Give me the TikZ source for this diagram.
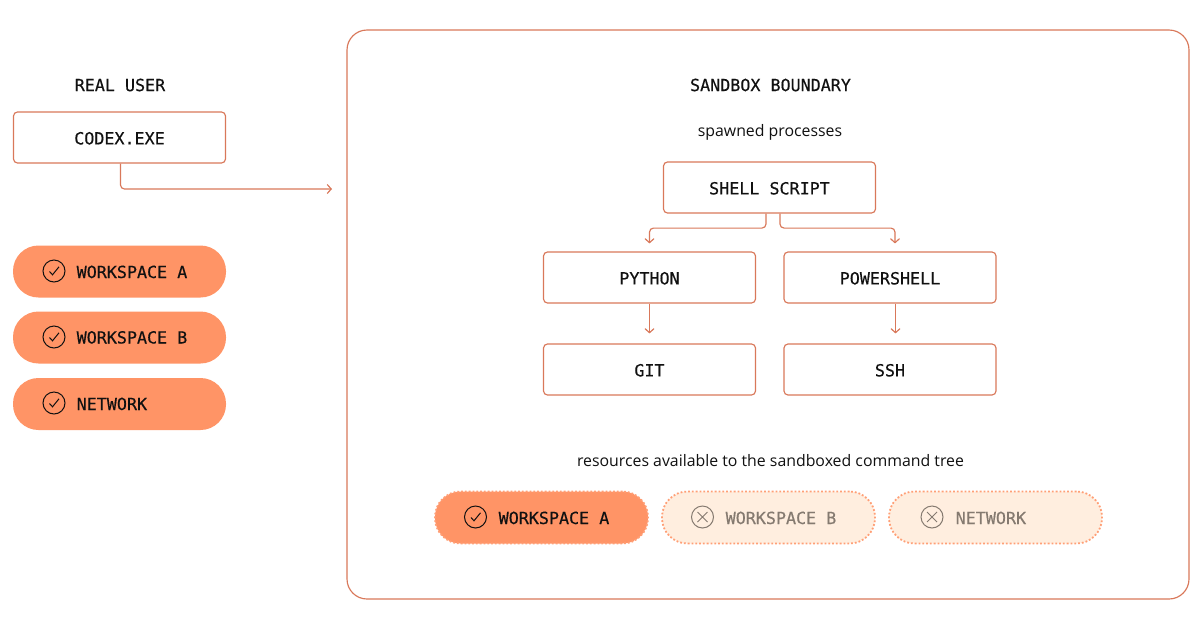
\documentclass[tikz,border=0pt]{standalone}
\usepackage{fontspec}
\setmainfont{Open Sans}
\setmonofont{DejaVu Sans Mono}[FakeBold=0.35]
\usetikzlibrary{arrows.meta,calc}
\definecolor{edgeline}{HTML}{D9785A}
\definecolor{pillfill}{HTML}{FF9466}
\definecolor{pilldot}{HTML}{FF9F76}
\definecolor{pillpale}{HTML}{FFEEDF}
\definecolor{mutedtext}{HTML}{857A70}
\definecolor{inktext}{HTML}{111111}
\tikzset{
    monotext/.style={text=inktext, inner xsep=0pt, font=\ttfamily\fontsize{16.7}{20}\selectfont},
    bodytext/.style={text=inktext, font=\fontsize{15.85}{19}\selectfont},
    procbox/.style={monotext, draw=edgeline, line width=1.15pt, rounded corners=4pt, fill=white,
        minimum width=212pt, minimum height=51pt, inner sep=0pt, text height=14pt},
    pillbase/.style={minimum width=213pt, minimum height=52pt, rounded corners=25.5pt, inner sep=0pt},
    granted/.style={pillbase, fill=pillfill},
    grantedlimit/.style={pillbase, fill=pillfill, draw=pilldot, line width=1.8pt, dotted},
    deniedlimit/.style={pillbase, fill=pillpale, draw=pilldot, line width=1.8pt, dotted},
    icon/.style={circle, draw=inktext, line width=1pt, minimum size=22pt, inner sep=0pt},
    iconoff/.style={circle, draw=mutedtext, line width=1pt, minimum size=22pt, inner sep=0pt},
    flow/.style={draw=edgeline, line width=1.15pt, rounded corners=4pt,
        -{Straight Barb[length=4pt,width=9pt]}},
}
\newcommand{\tickmark}[1]{\draw[inktext, line width=1pt] ($(#1)+(-4.5,0.5)$) -- ($(#1)+(-1.5,3.8)$) -- ($(#1)+(5,-4.2)$);}
\newcommand{\crossmark}[1]{\draw[mutedtext, line width=1pt] ($(#1)+(-5,-5)$) -- ($(#1)+(5,5)$) ($(#1)+(-5,5)$) -- ($(#1)+(5,-5)$);}
\begin{document}
\begin{tikzpicture}[x=1pt, y=-1pt]
    \useasboundingbox[fill=white] (0,0) rectangle (1200,630);

    % Real user side
    \node[monotext] (realuser) at (120, 85) {REAL USER};
    \node[procbox] (codex) at (119.5, 137.5) {CODEX.EXE};
    \coordinate (boundaryin) at (332, 189);

    \node[granted] (leftA) at (119.5, 271.5) {};
    \node[granted] (leftB) at (119.5, 337.5) {};
    \node[granted] (leftN) at (119.5, 404) {};
    \node[icon] (iconA) at (54, 271) {};
    \node[icon] (iconB) at (54, 337) {};
    \node[icon] (iconN) at (54, 403) {};
    \tickmark{iconA}
    \tickmark{iconB}
    \tickmark{iconN}
    \node[monotext, anchor=base west] (textA) at (76.5, 278) {WORKSPACE A};
    \node[monotext, anchor=base west] (textB) at (76.5, 343.5) {WORKSPACE B};
    \node[monotext, anchor=base west] (textN) at (76.5, 410) {NETWORK};

    % Sandbox side
    \node[draw=edgeline, line width=1.15pt, rounded corners=20pt, minimum width=842pt, minimum height=569pt] (frame) at (768, 314.5) {};
    \node[monotext] (boundary) at (770.5, 85) {SANDBOX BOUNDARY};
    \node[bodytext] (spawned) at (770, 132) {spawned processes};
    \node[procbox] (shell) at (769.5, 187.5) {SHELL SCRIPT};
    \node[procbox] (python) at (649.5, 277.5) {PYTHON};
    \node[procbox] (powershell) at (890, 277.5) {POWERSHELL};
    \node[procbox] (git) at (649.5, 369.5) {GIT};
    \node[procbox] (ssh) at (890, 369.5) {SSH};

    \draw[flow] ($(codex.south)+(1,0)$) |- (boundaryin);
    \draw[flow, shorten >=8pt] ($(shell.south)+(-3.5,0)$) -- ($(shell.south)+(-3.5,14.5)$) -| (python.north);
    \draw[flow, shorten >=8pt] ($(shell.south)+(10.5,0)$) -- ($(shell.south)+(10.5,14.5)$) -| ($(powershell.north)+(5,0)$);
    \draw[flow, shorten >=10pt] (python.south) -- (git.north);
    \draw[flow, shorten >=10pt] ($(powershell.south)+(5.5,0)$) -- ($(ssh.north)+(5.5,0)$);

    % Resources inside the sandbox
    \node[bodytext] (resources) at (770.5, 461) {resources available to the sandboxed command tree};
    \node[grantedlimit] (boxA) at (541.5, 517.5) {};
    \node[deniedlimit] (boxB) at (768.5, 517.5) {};
    \node[deniedlimit] (boxN) at (995.5, 517.5) {};
    \node[icon] (iconC) at (475.5, 517) {};
    \node[iconoff] (iconD) at (702.5, 517) {};
    \node[iconoff] (iconE) at (932, 517) {};
    \tickmark{iconC}
    \crossmark{iconD}
    \crossmark{iconE}
    \node[monotext, anchor=base west] (textC) at (498.5, 524) {WORKSPACE A};
    \node[monotext, anchor=base west, text=mutedtext] (textD) at (725.5, 524) {WORKSPACE B};
    \node[monotext, anchor=base west, text=mutedtext] (textE) at (955.5, 524) {NETWORK};
\end{tikzpicture}
\end{document}
